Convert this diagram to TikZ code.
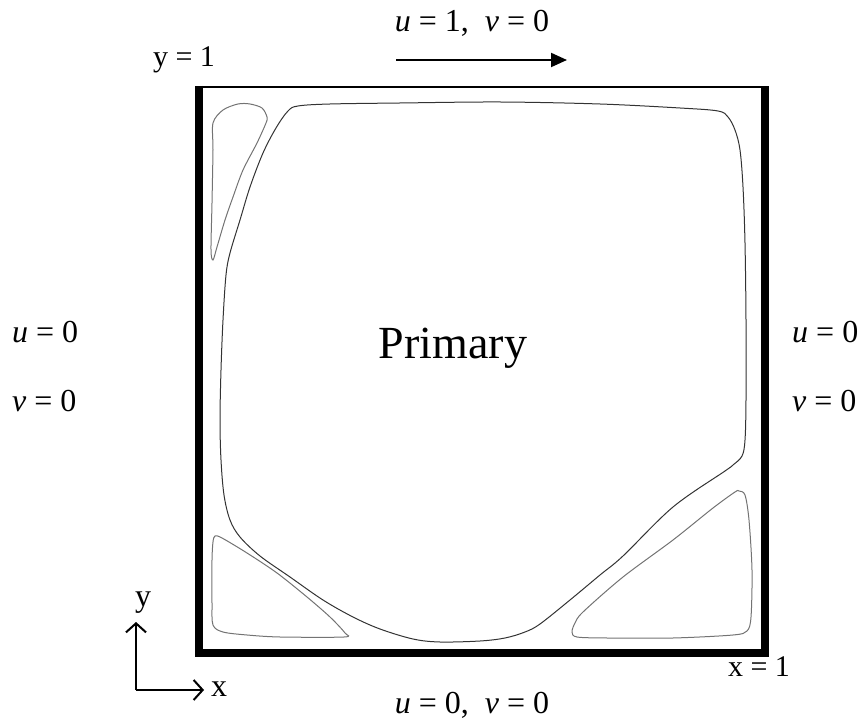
\documentclass[tikz,border=0pt]{standalone}
\usepackage{fontspec}
\setmainfont{Liberation Serif}
\usetikzlibrary{arrows.meta}

\begin{document}
\begin{tikzpicture}[
    x=1pt, y=-1pt,
    lbl/.style={font=\fontsize{32}{34}\selectfont, inner sep=0pt},
    smlbl/.style={font=\fontsize{30}{32}\selectfont, inner sep=0pt},
    wall/.style={line width=8pt, line join=miter},
    lid/.style={line width=2pt},
    primline/.style={black!80, line width=1pt},
    eddy/.style={black!55, line width=1pt},
    axis/.style={line width=2pt, -{Straight Barb[length=9pt, width=20pt, line width=2pt]}}
]
\useasboundingbox (0,0) rectangle (863,719);

% cavity
\draw[lid] (195,87) -- (769,87);
\draw[wall] (199,86) -- (199,653) -- (765,653) -- (765,86);

% streamlines
\draw[primline] plot[smooth cycle, tension=0.55] coordinates {
  (288,111) (298,106) (330,104) (400,103) (500,102) (600,104) (680,108)
  (718,111) (728,117) (735,130) (740,150) (743,187) (745,243) (746,320)
  (746,400) (745,440) (742,456) (733,465) (725,471) (673,507) (623,556)
  (600,575) (570,600) (540,624) (525,632) (505,638) (480,641) (440,642)
  (413,639) (380,629) (353,617) (323,600) (290,577) (260,556) (240,537)
  (230,520) (224,495) (221,460) (220,420) (221,370) (223,320) (226,275)
  (230,253) (240,220) (250,187) (263,153) (276,128)};
\draw[eddy] plot[smooth cycle, tension=0.5] coordinates {
  (213,123) (223,110) (238,104) (250,104) (262,108) (267,117) (266,123)
  (257,143) (243,170) (233,197) (225,220) (217,247) (213,260) (211,250)
  (212,203) (213,150)};
\draw[eddy] plot[smooth cycle, tension=0.5] coordinates {
  (215,536) (222,538) (247,553) (277,573) (307,597) (330,617) (345,633)
  (344,637) (280,637) (247,635) (223,632) (213,625) (212,603) (212,560)
  (213,542)};
\draw[eddy] plot[smooth cycle, tension=0.5] coordinates {
  (739,491) (745,495) (749,520) (752,570) (751,617) (747,631) (733,635)
  (673,638) (607,638) (577,637) (572,632) (575,623) (583,612) (623,577)
  (673,540) (713,508) (735,492)};

\node[font=\fontsize{46}{50}\selectfont, inner sep=0pt, anchor=base] (prim) at (453,359) {Primary};

% boundary conditions
\node[lbl, anchor=base] (top) at (472,32) {\textit{u} = 1,\enspace \textit{v} = 0};
\node[lbl, anchor=base] (bottom) at (472,713) {\textit{u} = 0,\enspace \textit{v} = 0};
\node[lbl, anchor=base west] (leftu) at (12,343) {\textit{u} = 0};
\node[lbl, anchor=base west] (leftv) at (12,412) {\textit{v} = 0};
\node[lbl, anchor=base west] (rightu) at (792,343) {\textit{u} = 0};
\node[lbl, anchor=base west] (rightv) at (792,412) {\textit{v} = 0};
\node[smlbl, anchor=base] (yone) at (184,67) {y = 1};
\node[smlbl, anchor=base] (xone) at (759,676) {x = 1};

\coordinate (lidA) at (396,60);
\coordinate (lidB) at (567,60);
\draw[line width=2pt, -{Triangle[length=16pt, width=14pt]}] (lidA) -- (lidB);

% axes
\coordinate (orig) at (136,690);
\coordinate (ytip) at (136,622);
\coordinate (xtip) at (204,690);
\draw[axis] (orig) -- (ytip);
\draw[axis] (orig) -- (xtip);
\node[lbl, anchor=base] (ylab) at (143,606) {y};
\node[lbl, anchor=base west] (xlab) at (211,696) {x};
\end{tikzpicture}
\end{document}
